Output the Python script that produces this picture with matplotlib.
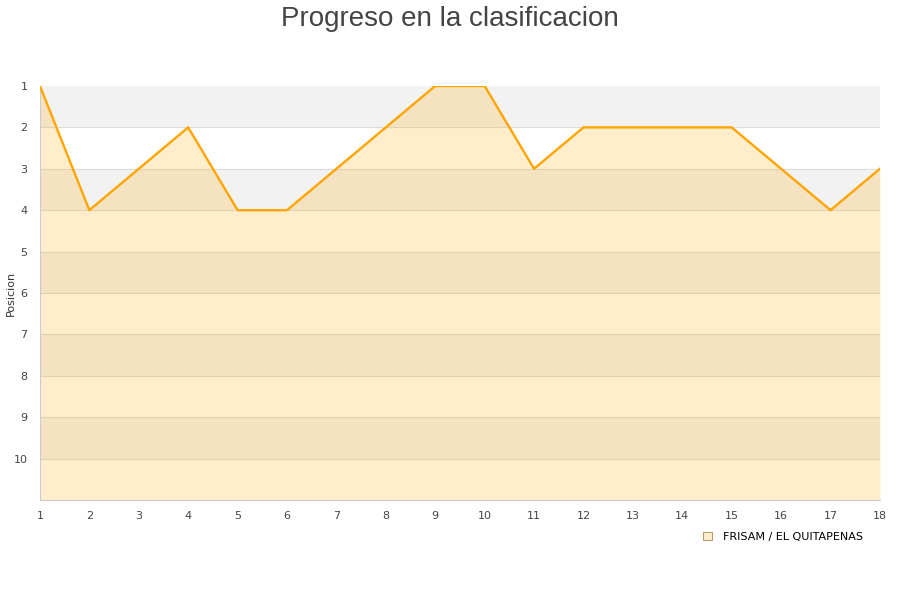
import matplotlib.pyplot as plt
from matplotlib.patches import Patch

jornadas = list(range(1, 19))
posiciones = [1, 4, 3, 2, 4, 4, 3, 2, 1, 1, 3, 2, 2, 2, 2, 3, 4, 3]
equipo = "FRISAM / EL QUITAPENAS"
max_pos = 11

fig = plt.figure(figsize=(9, 6), dpi=100)
ax = fig.add_axes([0.0444, 0.1667, 0.9333, 0.69])

# bandas alternas
for k in range(1, max_pos, 2):
    ax.axhspan(k, k + 1, color="#f2f2f2", zorder=0, lw=0)
for k in range(2, max_pos):
    ax.axhline(k, color="#dddddd", lw=0.8, zorder=1)

ax.fill_between(jornadas, posiciones, max_pos, color="#ffa500", alpha=0.2, lw=0, zorder=2)
ax.plot(jornadas, posiciones, color="#ffa500", lw=1.7, zorder=3)

ax.set_xlim(1, 18)
ax.set_ylim(max_pos, 1)
ax.set_xticks(jornadas)
ax.set_yticks(range(1, 11))
ax.tick_params(length=0, labelsize=8, colors="#444444", pad=8)
ax.tick_params(axis="y", pad=9)
for s in ["top", "right"]:
    ax.spines[s].set_visible(False)
for s in ["left", "bottom"]:
    ax.spines[s].set_color("#cccccc")
ax.set_ylabel("Posicion", fontsize=8, color="#333333")
ax.yaxis.set_label_coords(-0.029, 0.5)

fig.suptitle("Progreso en la clasificacion", fontsize=20, color="#444444", y=0.99,
             family=["Liberation Sans", "DejaVu Sans"])

h = Patch(facecolor="#ffeecc", edgecolor="#b8a070", lw=0.8)
fig.legend([h], [equipo], loc="center", bbox_to_anchor=(0.87, 0.105), frameon=False,
           fontsize=8, handlelength=0.8, handleheight=0.8, handletextpad=1.0)

fig.savefig("out.png", dpi=100)
